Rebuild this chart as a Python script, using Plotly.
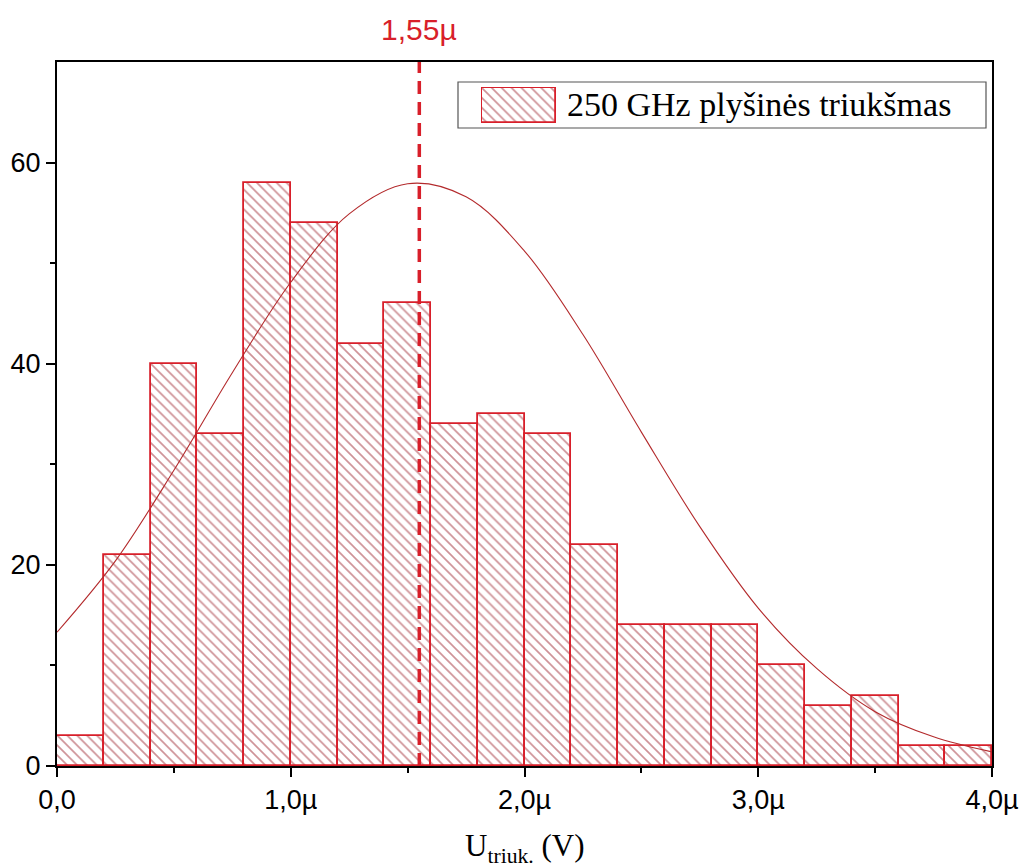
import plotly.graph_objects as go

# ---- data ----
bin_left = [0.0, 0.2, 0.4, 0.6, 0.8, 1.0, 1.2, 1.4, 1.6, 1.8,
            2.0, 2.2, 2.4, 2.6, 2.8, 3.0, 3.2, 3.4, 3.6, 3.8]   # µV
bin_width = 0.2
counts = [3, 21, 40, 33, 58, 54, 42, 46, 34, 35,
          33, 22, 14, 14, 14, 10, 6, 7, 2, 2]

fit_x = [0.0, 0.25, 0.5, 0.75, 1.0, 1.25, 1.5, 1.75, 2.0,
         2.25, 2.5, 2.75, 3.0, 3.25, 3.5, 3.75, 4.0]
fit_y = [13.3, 20.4, 29.4, 39.1, 48.1, 54.9, 57.9, 56.6, 51.2,
         42.9, 33.2, 23.8, 15.7, 9.7, 5.4, 2.9, 1.4]

mean_value = 1.55
mean_label = "1,55µ"

x_tickvals = [0, 1, 2, 3, 4]
x_ticktext = ["0,0", "1,0µ", "2,0µ", "3,0µ", "4,0µ"]
y_tickvals = [0, 20, 40, 60]
legend_text = "250 GHz plyšinės triukšmas"
x_title = "U<sub>triuk.</sub> (V)"

RED = "#d81f2a"
HATCH = "#9e2630"
CURVE = "#b32a2c"

bin_centers = [b + bin_width / 2 for b in bin_left]

hatch = dict(shape="\\", fgcolor=HATCH, bgcolor="white", size=7, solidity=0.24)

fig = go.Figure()

fig.add_trace(go.Bar(
    x=bin_centers, y=counts, width=[bin_width] * len(counts),
    marker=dict(color="white", line=dict(color=RED, width=1.8), pattern=hatch),
    showlegend=False, xaxis="x", yaxis="y",
))

fig.add_trace(go.Scatter(
    x=fit_x, y=fit_y, mode="lines",
    line=dict(color=CURVE, width=1.1, shape="spline", smoothing=1.0),
    showlegend=False, xaxis="x", yaxis="y",
))

# legend swatch as a tiny inset axis
fig.add_trace(go.Bar(
    x=[0], y=[1], width=[1], base=[0],
    marker=dict(color="white", line=dict(color=RED, width=1.8), pattern=hatch),
    showlegend=False, xaxis="x2", yaxis="y2", hoverinfo="skip",
))

W, H = 1026, 868
L, R, T, B = 57, 34, 62, 102
pw, ph = W - L - R, H - T - B

def px(xp):
    return (xp - L) / pw

def py(yp):
    return (H - B - yp) / ph

tickfont = dict(family="Liberation Sans, Arial", size=27, color="black")

fig.update_layout(
    width=W, height=H,
    margin=dict(l=L, r=R, t=T, b=B, pad=0, autoexpand=False),
    paper_bgcolor="white", plot_bgcolor="white",
    bargap=0,
    xaxis=dict(
        range=[0, 4], tickvals=x_tickvals, ticktext=x_ticktext,
        ticks="outside", ticklen=9, tickwidth=2, tickcolor="black",
        minor=dict(tickvals=[0.5, 1.5, 2.5, 3.5], ticks="outside", ticklen=5,
                   tickwidth=2, tickcolor="black", showgrid=False),
        showline=True, linecolor="black", linewidth=2, mirror=True,
        showgrid=False, zeroline=False, tickfont=tickfont, automargin=False,
    ),
    yaxis=dict(
        range=[0, 70], tickvals=y_tickvals,
        ticks="outside", ticklen=9, tickwidth=2, tickcolor="black",
        minor=dict(tickvals=[10, 30, 50], ticks="outside", ticklen=5,
                   tickwidth=2, tickcolor="black", showgrid=False),
        showline=True, linecolor="black", linewidth=2, mirror=True,
        showgrid=False, zeroline=False, tickfont=tickfont, automargin=False,
    ),
    xaxis2=dict(domain=[px(481), px(557)], range=[-0.52, 0.52], anchor="y2",
                visible=False, fixedrange=True),
    yaxis2=dict(domain=[py(124), py(87)], range=[-0.04, 1.04], anchor="x2",
                visible=False, fixedrange=True),
    showlegend=False,
)

# mean dashed line
fig.add_shape(type="line", xref="x", yref="paper", x0=mean_value, x1=mean_value,
              y0=0, y1=1, line=dict(color=RED, width=3.5, dash="13px,8px"), layer="above")
fig.add_annotation(x=mean_value, xref="x", y=1, yref="paper", yanchor="bottom",
                   yshift=14, text=mean_label, showarrow=False,
                   font=dict(family="Liberation Sans, Arial", size=30, color=RED))

# x axis title
fig.add_annotation(x=0.5, xref="paper", y=py(848), yref="paper", yanchor="middle",
                   text=x_title, showarrow=False,
                   font=dict(family="Liberation Serif, Times New Roman", size=31, color="black"))

# legend box
fig.add_shape(type="rect", xref="paper", yref="paper",
              x0=px(458), x1=px(986), y0=py(128), y1=py(82),
              line=dict(color="#555555", width=1.2), fillcolor="rgba(0,0,0,0)", layer="above")
fig.add_annotation(x=px(565), xref="paper", y=py(105), yref="paper",
                   xanchor="left", yanchor="middle", text=legend_text, showarrow=False,
                   font=dict(family="Liberation Serif, Times New Roman", size=34, color="black"))

fig.write_html("out.html", config={"displayModeBar": False},
               post_script="document.body.style.margin='0';document.body.style.overflow='hidden';")
